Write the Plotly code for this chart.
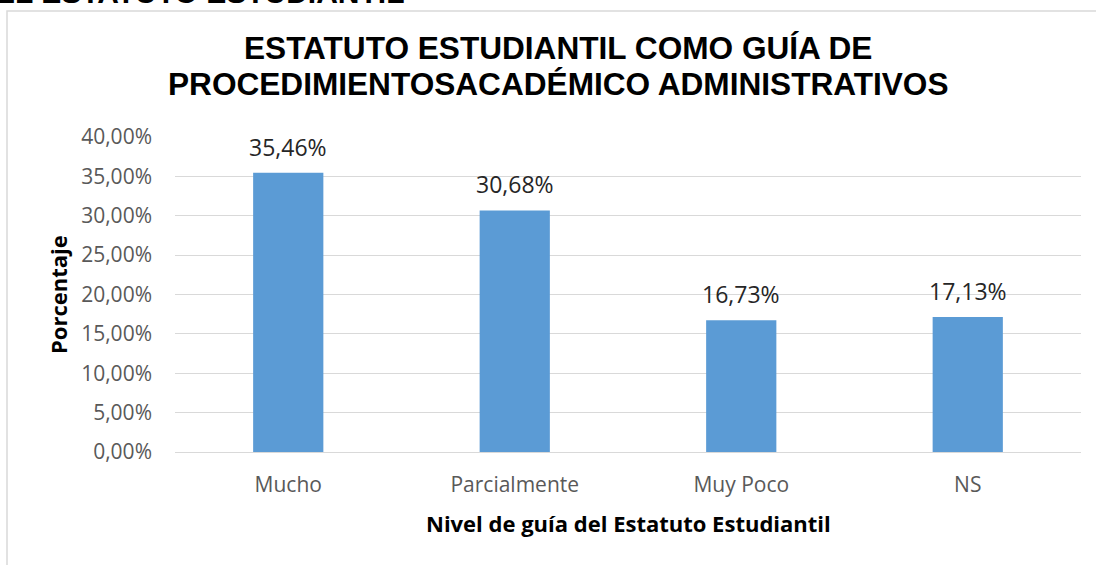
import plotly.graph_objects as go

categories = ["Mucho", "Parcialmente", "Muy Poco", "NS"]
values = [35.46, 30.68, 16.73, 17.13]
y_ticks = [0, 5, 10, 15, 20, 25, 30, 35, 40]
y_tick_labels = [f"{t:.2f}".replace(".", ",") + "%" for t in y_ticks]
title_lines = ["ESTATUTO ESTUDIANTIL COMO GUÍA DE", "PROCEDIMIENTOSACADÉMICO ADMINISTRATIVOS"]

L, R, T, B = 175, 15, 137, 113
W, H = 1096, 565
PW = W - L - R
PH = H - T - B

def px_x(px):
    return (px - L) / PW

def px_y(py):
    return (H - B - py) / PH

fig = go.Figure()
fig.add_trace(go.Bar(
    x=categories, y=values, marker_color="#5B9BD5", width=0.31,
    marker_line_width=0, hoverinfo="skip",
))

annotations = []
for c, v in zip(categories, values):
    annotations.append(dict(
        x=c, y=v, xref="x", yref="y", yanchor="bottom", yshift=8,
        text=f"{v:.2f}".replace(".", ",") + "%", showarrow=False,
        font=dict(family="Open Sans", size=23, color="#262626"),
    ))

for line, ypx in zip(title_lines, [48, 84]):
    annotations.append(dict(
        x=px_x(558), y=px_y(ypx), xref="paper", yref="paper",
        text=f"<b>{line}</b>", showarrow=False,
        font=dict(family="Liberation Sans", size=31.6, color="#000000"),
        xanchor="center", yanchor="middle"))

annotations += [
    dict(x=px_x(628), y=px_y(523), xref="paper", yref="paper",
         text="<b>Nivel de guía del Estatuto Estudiantil</b>", showarrow=False,
         font=dict(family="Open Sans", size=22, color="#000000"),
         xanchor="center", yanchor="middle"),
    dict(x=px_x(58), y=px_y(295), xref="paper", yref="paper",
         text="<b>Porcentaje</b>", showarrow=False, textangle=-90,
         font=dict(family="Open Sans", size=22, color="#000000"),
         xanchor="center", yanchor="middle"),
    dict(x=px_x(406), y=px_y(-8), xref="paper", yref="paper",
         text="<b>EL ESTATUTO ESTUDIANTIL</b>", showarrow=False,
         font=dict(family="Liberation Sans", size=30, color="#000000"),
         xanchor="right", yanchor="middle"),
]

fig.update_layout(
    width=W, height=H,
    margin=dict(l=L, r=R, t=T, b=B),
    paper_bgcolor="white", plot_bgcolor="white",
    showlegend=False,
    annotations=annotations,
    shapes=[dict(type="rect", xref="paper", yref="paper",
                 x0=px_x(7), x1=px_x(1120), y0=px_y(600), y1=px_y(11),
                 line=dict(color="#D9D9D9", width=1.5), layer="below")],
    xaxis=dict(
        showgrid=False, showline=False, zeroline=False,
        tickfont=dict(family="Open Sans", size=21, color="#595959"),
        ticks="", ticklabelstandoff=18,
    ),
    yaxis=dict(
        range=[0, 40], tickmode="array", tickvals=y_ticks, ticktext=y_tick_labels,
        showgrid=True, gridcolor="#D9D9D9", gridwidth=1.3,
        zeroline=True, zerolinecolor="#D9D9D9", zerolinewidth=1.3,
        showline=False,
        tickfont=dict(family="Open Sans", size=21, color="#595959"),
        ticks="", ticklabelstandoff=22,
    ),
)

fig.write_html("out.html", config={"displayModeBar": False},
               post_script="document.body.style.margin='0';")
